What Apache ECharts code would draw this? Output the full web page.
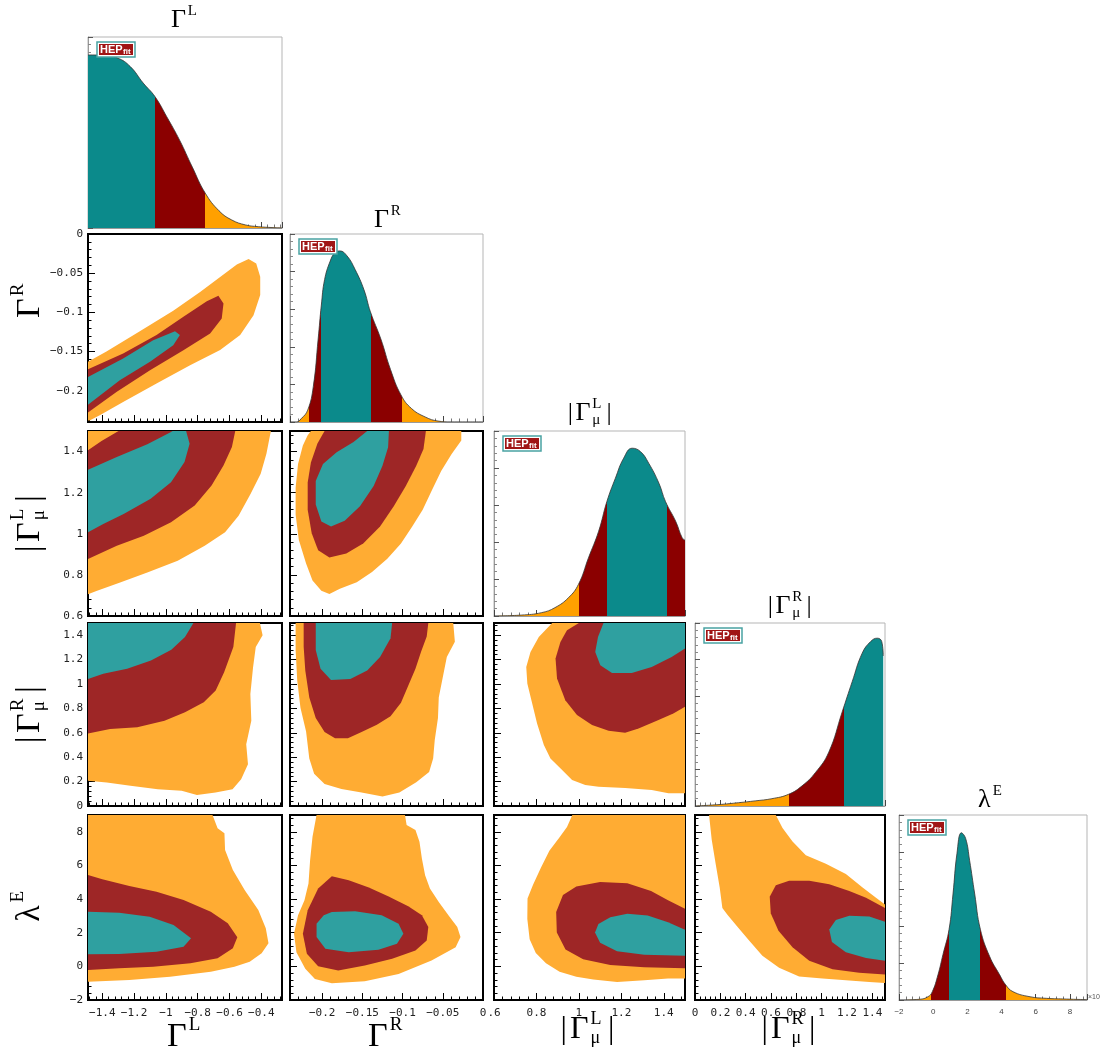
<!DOCTYPE html>
<html>
<head>
<meta charset="utf-8">
<script src="https://cdn.jsdelivr.net/npm/echarts@6/dist/echarts.min.js"></script>
<style>html,body{margin:0;padding:0;background:#fff}#main{width:1105px;height:1050px}</style>
</head>
<body>
<div id="main"></div>
<script>
// axis ranges of the five parameters
var rangeGL = [-1.49, -0.27];
var rangeGR = [-0.24, 0];
var rangeLmu = [0.6, 1.5];
var rangeRmu = [0, 1.5];
var rangeLam = [-2, 9];

// 1D marginal posteriors (x, density scaled to the box height)
var densGL = [[-1.49,0.906],[-1.40,0.905],[-1.304,0.89],[-1.224,0.845],[-1.143,0.759],[-1.069,0.688],[-0.995,0.583],[-0.914,0.46],[-0.834,0.319],[-0.753,0.183],[-0.666,0.09],[-0.586,0.042],[-0.499,0.016],[-0.419,0.007],[-0.326,0.002],[-0.27,0]];
var densGR = [[-0.24,0],[-0.232,0],[-0.226,0.018],[-0.218,0.063],[-0.211,0.189],[-0.205,0.441],[-0.201,0.622],[-0.197,0.757],[-0.19,0.856],[-0.184,0.901],[-0.178,0.91],[-0.169,0.883],[-0.159,0.811],[-0.148,0.703],[-0.14,0.586],[-0.127,0.441],[-0.115,0.279],[-0.102,0.144],[-0.089,0.072],[-0.072,0.027],[-0.056,0.005],[-0.039,0],[0,0]];
var densLmu = [[0.6,0],[0.729,0.005],[0.824,0.018],[0.887,0.045],[0.951,0.099],[0.998,0.171],[1.045,0.314],[1.093,0.458],[1.132,0.619],[1.172,0.745],[1.211,0.853],[1.251,0.907],[1.29,0.889],[1.329,0.826],[1.377,0.718],[1.408,0.619],[1.456,0.512],[1.487,0.422],[1.5,0.41]];
var densRmu = [[0,0],[0.106,0.004],[0.211,0.009],[0.343,0.018],[0.475,0.028],[0.607,0.04],[0.739,0.064],[0.845,0.11],[0.951,0.183],[1.056,0.294],[1.162,0.514],[1.241,0.679],[1.32,0.835],[1.387,0.899],[1.439,0.917],[1.474,0.899],[1.486,0.82]];
var densLam = [[-2,0],[-0.79,0.004],[-0.3,0.018],[-0.05,0.045],[0.28,0.136],[0.57,0.245],[0.93,0.382],[1.16,0.573],[1.39,0.791],[1.65,0.904],[1.9,0.873],[2.13,0.755],[2.43,0.573],[2.76,0.382],[3.3,0.236],[3.89,0.136],[4.24,0.082],[4.67,0.045],[5.64,0.018],[6.62,0.009],[7.79,0.005],[9,0.002]];

// credible-interval edges along x and the level of each zone between them
var edgesGL = [-1.069, -0.753];              var zonesGL = [68, 95, 99];
var edgesGR = [-0.216, -0.202, -0.139, -0.101]; var zonesGR = [99, 95, 68, 95, 99];
var edgesLmu = [1.001, 1.132, 1.416];         var zonesLmu = [99, 95, 68, 95];
var edgesRmu = [0.745, 1.175];                var zonesRmu = [99, 95, 68];
var edgesLam = [-0.11, 0.93, 2.76, 4.24];     var zonesLam = [99, 95, 68, 95, 99];

// 2D contours: 99.7%, 95%, 68% regions
var cRL99 = [[-1.49,-0.163],[-1.374,-0.150],[-1.164,-0.124],[-0.954,-0.098],[-0.785,-0.074],[-0.659,-0.055],[-0.554,-0.039],[-0.48,-0.032],[-0.432,-0.0375],[-0.407,-0.0546],[-0.407,-0.078],[-0.449,-0.1036],[-0.533,-0.129],[-0.659,-0.148],[-0.848,-0.1675],[-1.059,-0.191],[-1.269,-0.2144],[-1.416,-0.2315],[-1.48,-0.238],[-1.49,-0.238]];
var cRL95 = [[-1.49,-0.1727],[-1.269,-0.1526],[-1.059,-0.129],[-0.89,-0.1057],[-0.743,-0.0857],[-0.67,-0.0789],[-0.638,-0.0887],[-0.649,-0.1079],[-0.722,-0.127],[-0.89,-0.1484],[-1.1,-0.1739],[-1.311,-0.2016],[-1.49,-0.228]];
var cRL68 = [[-1.49,-0.1825],[-1.269,-0.159],[-1.08,-0.1356],[-0.943,-0.124],[-0.912,-0.129],[-0.954,-0.142],[-1.1,-0.163],[-1.29,-0.1867],[-1.49,-0.218]];

var cLmL99 = [[-1.49,1.5],[-0.34,1.5],[-0.368,1.389],[-0.404,1.292],[-0.468,1.194],[-0.543,1.088],[-0.628,1.007],[-0.756,0.942],[-0.926,0.869],[-1.117,0.812],[-1.288,0.763],[-1.437,0.722],[-1.49,0.706]];
var cLmL95 = [[-1.49,1.406],[-1.405,1.451],[-1.298,1.5],[-0.564,1.5],[-0.585,1.422],[-0.638,1.332],[-0.713,1.235],[-0.819,1.137],[-0.968,1.056],[-1.139,0.991],[-1.309,0.942],[-1.49,0.877]];
var cLmL68 = [[-1.49,1.311],[-1.309,1.373],[-1.117,1.435],[-0.968,1.495],[-0.958,1.5],[-0.873,1.5],[-0.851,1.438],[-0.883,1.349],[-0.968,1.251],[-1.096,1.17],[-1.266,1.096],[-1.394,1.048],[-1.49,1.007]];

var cRmL99 = [[-1.49,1.5],[-0.409,1.5],[-0.392,1.399],[-0.435,1.303],[-0.452,1.138],[-0.469,0.919],[-0.463,0.699],[-0.495,0.507],[-0.484,0.343],[-0.527,0.219],[-0.581,0.137],[-0.688,0.11],[-0.805,0.091],[-0.901,0.124],[-1.051,0.137],[-1.223,0.165],[-1.372,0.192],[-1.49,0.206]];
var cRmL95 = [[-1.49,1.5],[-0.559,1.5],[-0.576,1.303],[-0.634,1.097],[-0.687,0.946],[-0.762,0.85],[-0.88,0.768],[-1.009,0.699],[-1.18,0.645],[-1.351,0.631],[-1.49,0.595]];
var cRmL68 = [[-1.49,1.5],[-0.827,1.5],[-0.88,1.385],[-0.966,1.281],[-1.094,1.193],[-1.244,1.124],[-1.394,1.083],[-1.49,1.042]];

var cEL99 = [[-1.49,9],[-0.707,9],[-0.675,8.207],[-0.632,7.91],[-0.628,6.919],[-0.579,5.73],[-0.505,4.54],[-0.419,3.351],[-0.372,2.261],[-0.355,1.369],[-0.398,0.775],[-0.473,0.279],[-0.569,-0.018],[-0.718,-0.315],[-0.974,-0.613],[-1.23,-0.811],[-1.49,-0.91]];
var cEL95 = [[-1.49,5.432],[-1.4,5.175],[-1.23,4.778],[-1.059,4.441],[-0.889,3.946],[-0.718,3.252],[-0.611,2.559],[-0.551,1.726],[-0.579,1.072],[-0.675,0.478],[-0.846,0.18],[-1.08,-0.018],[-1.294,-0.117],[-1.49,-0.217]];
var cEL68 = [[-1.49,3.252],[-1.294,3.193],[-1.102,2.955],[-0.952,2.459],[-0.842,1.667],[-0.889,1.171],[-1.059,0.874],[-1.294,0.735],[-1.49,0.715]];

var cLmR99 = [[-0.214,1.5],[-0.027,1.5],[-0.027,1.454],[-0.039,1.388],[-0.052,1.306],[-0.064,1.208],[-0.075,1.117],[-0.088,1.035],[-0.102,0.953],[-0.119,0.879],[-0.138,0.814],[-0.157,0.764],[-0.178,0.732],[-0.191,0.707],[-0.201,0.723],[-0.212,0.773],[-0.22,0.855],[-0.229,0.97],[-0.233,1.093],[-0.233,1.224],[-0.23,1.339],[-0.224,1.429],[-0.218,1.479]];
var cLmR95 = [[-0.197,1.5],[-0.071,1.5],[-0.074,1.413],[-0.083,1.331],[-0.096,1.232],[-0.111,1.134],[-0.128,1.035],[-0.149,0.953],[-0.17,0.904],[-0.191,0.884],[-0.205,0.92],[-0.213,1.002],[-0.218,1.117],[-0.218,1.249],[-0.214,1.347],[-0.206,1.438],[-0.199,1.487]];
var cLmR68 = [[-0.144,1.5],[-0.117,1.5],[-0.118,1.421],[-0.125,1.331],[-0.136,1.232],[-0.153,1.134],[-0.172,1.063],[-0.189,1.035],[-0.201,1.06],[-0.208,1.142],[-0.208,1.257],[-0.199,1.339],[-0.182,1.397],[-0.161,1.446]];

var cRmR99 = [[-0.233,1.5],[-0.037,1.5],[-0.035,1.347],[-0.045,1.222],[-0.05,1.056],[-0.055,0.889],[-0.056,0.722],[-0.06,0.542],[-0.062,0.389],[-0.067,0.278],[-0.083,0.194],[-0.104,0.111],[-0.125,0.078],[-0.151,0.111],[-0.176,0.139],[-0.197,0.181],[-0.21,0.264],[-0.216,0.389],[-0.22,0.611],[-0.227,0.806],[-0.231,1.028],[-0.233,1.278]];
var cRmR95 = [[-0.223,1.5],[-0.068,1.5],[-0.07,1.389],[-0.077,1.264],[-0.084,1.125],[-0.093,0.986],[-0.102,0.847],[-0.115,0.736],[-0.132,0.667],[-0.151,0.606],[-0.168,0.556],[-0.184,0.556],[-0.197,0.606],[-0.208,0.722],[-0.216,0.889],[-0.221,1.111],[-0.223,1.306]];
var cRmR68 = [[-0.208,1.5],[-0.113,1.5],[-0.115,1.375],[-0.128,1.222],[-0.144,1.111],[-0.165,1.042],[-0.189,1.033],[-0.202,1.125],[-0.208,1.278]];

var cER99 = [[-0.207,9],[-0.097,9],[-0.095,8.403],[-0.084,8.105],[-0.079,7.409],[-0.076,6.414],[-0.072,5.42],[-0.066,4.624],[-0.055,3.829],[-0.043,3.033],[-0.032,2.337],[-0.028,1.74],[-0.034,1.143],[-0.064,0.348],[-0.105,-0.448],[-0.147,-0.885],[-0.188,-1.005],[-0.209,-0.746],[-0.221,-0.149],[-0.232,0.845],[-0.235,1.939],[-0.23,3.033],[-0.222,3.928],[-0.217,4.922],[-0.215,6.315],[-0.212,7.707]];
var cER95 = [[-0.188,5.36],[-0.167,5.122],[-0.142,4.684],[-0.118,4.166],[-0.093,3.57],[-0.076,3.033],[-0.068,2.337],[-0.07,1.542],[-0.084,0.945],[-0.113,0.448],[-0.147,0.05],[-0.18,-0.249],[-0.205,0.01],[-0.219,0.746],[-0.224,1.939],[-0.218,3.331],[-0.205,4.624]];
var cER68 = [[-0.188,3.231],[-0.159,3.271],[-0.126,3.033],[-0.105,2.536],[-0.099,1.939],[-0.107,1.342],[-0.13,0.984],[-0.167,0.845],[-0.196,1.044],[-0.207,1.74],[-0.207,2.536],[-0.198,3.033]];

var cRmLm99 = [[0.874,1.5],[1.5,1.5],[1.5,0.104],[1.422,0.104],[1.343,0.131],[1.218,0.147],[1.093,0.158],[1.03,0.172],[0.968,0.213],[0.921,0.295],[0.866,0.39],[0.835,0.499],[0.803,0.676],[0.78,0.84],[0.757,1.004],[0.752,1.14],[0.772,1.263],[0.811,1.385]];
var cRmLm95 = [[1.0,1.5],[1.5,1.5],[1.5,0.813],[1.445,0.758],[1.367,0.698],[1.281,0.636],[1.218,0.6],[1.14,0.616],[1.062,0.663],[0.991,0.745],[0.936,0.867],[0.897,1.045],[0.89,1.208],[0.913,1.345],[0.944,1.44]];
var cRmLm68 = [[1.116,1.5],[1.5,1.5],[1.5,1.29],[1.437,1.222],[1.343,1.14],[1.249,1.091],[1.156,1.091],[1.101,1.154],[1.077,1.263],[1.09,1.385]];

var cELm99 = [[0.969,9],[1.5,9],[1.5,-0.725],[1.42,-0.725],[1.308,-0.826],[1.18,-0.927],[1.068,-0.786],[0.988,-0.624],[0.909,-0.32],[0.845,0.187],[0.797,0.795],[0.768,1.605],[0.757,2.821],[0.758,4.036],[0.784,4.847],[0.821,5.86],[0.861,6.873],[0.909,7.683],[0.944,8.291]];
var cELm95 = [[1.5,3.428],[1.42,3.935],[1.34,4.482],[1.228,4.948],[1.1,5.009],[0.988,4.745],[0.925,4.239],[0.893,3.226],[0.896,2.01],[0.937,0.997],[1.02,0.43],[1.148,0.086],[1.308,-0.056],[1.5,-0.117]];
var cELm68 = [[1.5,2.172],[1.42,2.618],[1.324,3.023],[1.228,3.124],[1.148,2.922],[1.092,2.517],[1.076,2.01],[1.1,1.402],[1.18,0.896],[1.308,0.694],[1.5,0.633]];

var cERm99 = [[0.111,9],[0.638,9],[0.691,8.23],[0.77,7.42],[0.875,6.609],[1.033,6.103],[1.191,5.495],[1.323,4.685],[1.429,4.077],[1.5,3.672],[1.5,-0.988],[1.376,-0.927],[1.218,-0.846],[1.007,-0.725],[0.822,-0.603],[0.664,-0.076],[0.532,0.633],[0.427,1.544],[0.335,2.355],[0.256,3.064],[0.216,3.469],[0.195,4.685],[0.163,6.103],[0.132,7.521]];
var cERm95 = [[1.5,3.469],[1.35,4.077],[1.218,4.482],[1.06,4.887],[0.902,5.09],[0.743,5.09],[0.638,4.827],[0.59,4.138],[0.598,3.165],[0.659,2.112],[0.77,1.139],[0.902,0.329],[1.086,-0.177],[1.297,-0.38],[1.5,-0.481]];
var cERm68 = [[1.5,2.659],[1.376,2.963],[1.218,3.003],[1.112,2.76],[1.06,2.193],[1.081,1.443],[1.191,0.836],[1.35,0.491],[1.5,0.329]];

var ranges = [rangeGL, rangeGR, rangeLmu, rangeRmu, rangeLam];
var densities = [densGL, densGR, densLmu, densRmu, densLam];
var bandEdges = [edgesGL, edgesGR, edgesLmu, edgesRmu, edgesLam];
var bandZones = [zonesGL, zonesGR, zonesLmu, zonesRmu, zonesLam];
// contours keyed by "row,col"
var contours = {
    '1,0': [cRL99, cRL95, cRL68],
    '2,0': [cLmL99, cLmL95, cLmL68],
    '3,0': [cRmL99, cRmL95, cRmL68],
    '4,0': [cEL99, cEL95, cEL68],
    '2,1': [cLmR99, cLmR95, cLmR68],
    '3,1': [cRmR99, cRmR95, cRmR68],
    '4,1': [cER99, cER95, cER68],
    '3,2': [cRmLm99, cRmLm95, cRmLm68],
    '4,2': [cELm99, cELm95, cELm68],
    '4,3': [cERm99, cERm95, cERm68]
};
var contourLevels = [99, 95, 68];

// styles / layout
var diagColor = {68: '#0b8a8b', 95: '#8b0000', 99: '#ffa000'};
var fillColor = {68: '#2fa0a0', 95: '#9e2626', 99: '#ffac33'};
var tickInterval = [null, null, 0.2, 0.2, 2];
var tickSplit = [5, 5, 5, 7, 6];
var colX = [88, 290, 494, 695, 899];
var colW = [194, 193, 191, 190, 188];
var rowY = [37, 234, 431, 623, 815];
var rowH = [191, 188, 185, 183, 185];

function fmtTick(v) {
    return String(+(+v).toFixed(3)).replace('-', '\u2212');
}

function makeAxis(gi, v, diag, showLabels, isX) {
    var ax = {
        type: 'value',
        gridIndex: gi,
        min: ranges[v][0],
        max: ranges[v][1],
        splitNumber: tickSplit[v],
        axisLine: {show: true, onZero: false, lineStyle: {color: diag ? '#9a9a9a' : '#000', width: diag ? 1 : 1.5}},
        axisTick: {show: true, inside: true, length: diag ? 6 : 7, lineStyle: {color: diag ? '#444' : '#000', width: 1}},
        minorTick: {show: true, splitNumber: 5, length: 3.5, lineStyle: {color: diag ? '#777' : '#000', width: 1}},
        splitLine: {show: false},
        axisLabel: {
            show: showLabels,
            margin: isX ? 8 : 5,
            fontSize: 11,
            fontFamily: 'DejaVu Sans Mono',
            color: '#222',
            showMinLabel: (v === 2 || v === 3 || v === 4),
            showMaxLabel: v === 1,
            formatter: function (val) {
                if (isX && v === 2 && Math.abs(val - 0.6) < 1e-6) return '.6';
                return fmtTick(val);
            }
        }
    };
    if (tickInterval[v]) ax.interval = tickInterval[v];
    return ax;
}

function polySeries(gi, pts, color) {
    return {
        type: 'custom',
        xAxisIndex: gi,
        yAxisIndex: gi,
        data: pts,
        encode: {x: 0, y: 1},
        silent: true,
        clip: true,
        z: 2,
        renderItem: function (params, api) {
            if (params.dataIndex !== 0) return null;
            return {
                type: 'polygon',
                shape: {points: pts.map(function (p) { return api.coord(p); })},
                style: {fill: color}
            };
        }
    };
}

function piecesFor(edges, zones) {
    var out = [];
    for (var k = 0; k < zones.length; k++) {
        var p = {color: diagColor[zones[k]]};
        if (k > 0) p.gte = edges[k - 1];
        if (k < edges.length) p.lt = edges[k];
        out.push(p);
    }
    return out;
}

var textZ = 100;
function mathLabel(cx, cy, size, base, sup, sub, bars, rot) {
    var small = Math.round(size * 0.56);
    var kids = [], x = 0;
    function put(t, dx, dy, fs) {
        kids.push({type: 'text', x: dx, y: dy, z: textZ,
            style: {text: t, fontSize: fs, fontFamily: 'Liberation Serif', fill: '#000', align: 'left', verticalAlign: 'middle'}});
    }
    if (bars) { put('|', x, 0, size); x += size * 0.3; }
    put(base, x, 0, size);
    x += size * (base === '\u03bb' ? 0.56 : 0.64);
    put(sup, x, -size * 0.34, small);
    if (sub) put(sub, x, size * 0.26, small);
    x += small * 0.75;
    if (bars) { x += size * 0.12; put('|', x, 0, size); x += size * 0.3; }
    kids.forEach(function (k) { k.x -= x / 2; });
    return {type: 'group', x: cx, y: cy, rotation: rot || 0, z: textZ, children: kids};
}

function logo(x, y) {
    return {type: 'group', x: x, y: y, z: textZ, children: [
        {type: 'rect', z: textZ, shape: {x: 0, y: 0, width: 38, height: 15}, style: {fill: '#fff', stroke: '#4aa3a3', lineWidth: 1.5}},
        {type: 'rect', z: textZ, shape: {x: 2, y: 2, width: 34, height: 11}, style: {fill: '#a01515'}},
        {type: 'text', z: textZ, x: 3, y: 8, style: {text: 'HEP', fontSize: 11, fontWeight: 'bold', fontFamily: 'Liberation Sans', fill: '#fff', verticalAlign: 'middle'}},
        {type: 'text', z: textZ, x: 26, y: 10, style: {text: 'fit', fontSize: 8, fontWeight: 'bold', fontFamily: 'Liberation Sans', fill: '#fff', verticalAlign: 'middle'}}
    ]};
}

var grids = [], xAxes = [], yAxes = [], series = [], visualMaps = [], graphics = [];
var gi = 0;
for (var i = 0; i < 5; i++) {
    for (var j = 0; j <= i; j++) {
        var diag = i === j;
        grids.push({
            left: colX[j], top: rowY[i], width: colW[j], height: rowH[i],
            show: true, borderColor: diag ? '#b5b5b5' : '#000', borderWidth: diag ? 1 : 2,
            containLabel: false, outerBoundsMode: 'none'
        });
        if (diag) {
            var xa = makeAxis(gi, i, true, i === 4, true);
            if (i === 4) {
                xa.axisLabel.fontSize = 8;
                xa.axisLabel.fontFamily = 'Liberation Sans';
                xa.axisLabel.color = '#444';
                xa.axisLabel.showMinLabel = true;
            }
            xAxes.push(xa);
            yAxes.push({
                type: 'value', gridIndex: gi, min: 0, max: 1, splitNumber: 5,
                axisLine: {show: true, onZero: false, lineStyle: {color: '#9a9a9a'}},
                axisTick: {show: true, inside: true, length: 5, lineStyle: {color: '#555'}},
                minorTick: {show: true, splitNumber: 5, length: 3, lineStyle: {color: '#888'}},
                splitLine: {show: false},
                axisLabel: {show: false}
            });
            series.push({
                type: 'line', xAxisIndex: gi, yAxisIndex: gi,
                data: densities[i], showSymbol: false, smooth: 0.45,
                lineStyle: {color: '#333', width: 0.8},
                areaStyle: {opacity: 1},
                silent: true, z: 2
            });
            visualMaps.push({
                type: 'piecewise', show: false, seriesIndex: series.length - 1, dimension: 0,
                pieces: piecesFor(bandEdges[i], bandZones[i])
            });
            graphics.push(logo(colX[j] + 9, rowY[i] + 5));
        } else {
            xAxes.push(makeAxis(gi, j, false, i === 4, true));
            yAxes.push(makeAxis(gi, i, false, j === 0, false));
            var polys = contours[i + ',' + j];
            for (var k = 0; k < polys.length; k++) {
                series.push(polySeries(gi, polys[k], fillColor[contourLevels[k]]));
            }
        }
        gi++;
    }
}

// diagonal titles
graphics.push(mathLabel(185, 20, 26, '\u0393', 'L', null, false));
graphics.push(mathLabel(388, 220, 26, '\u0393', 'R', null, false));
graphics.push(mathLabel(591, 413, 26, '\u0393', 'L', '\u03bc', true));
graphics.push(mathLabel(791, 606, 26, '\u0393', 'R', '\u03bc', true));
graphics.push(mathLabel(991, 800, 26, '\u03bb', 'E', null, false));
// bottom axis titles
graphics.push(mathLabel(185, 1037, 34, '\u0393', 'L', null, false));
graphics.push(mathLabel(386, 1037, 34, '\u0393', 'R', null, false));
graphics.push(mathLabel(589, 1030, 32, '\u0393', 'L', '\u03bc', true));
graphics.push(mathLabel(790, 1030, 32, '\u0393', 'R', '\u03bc', true));
// left axis titles
graphics.push(mathLabel(30, 300, 34, '\u0393', 'R', null, false, Math.PI / 2));
graphics.push(mathLabel(30, 522, 34, '\u0393', 'L', '\u03bc', true, Math.PI / 2));
graphics.push(mathLabel(30, 713, 34, '\u0393', 'R', '\u03bc', true, Math.PI / 2));
graphics.push(mathLabel(30, 905, 34, '\u03bb', 'E', null, false, Math.PI / 2));
graphics.push({type: 'text', x: 1088, y: 997, z: textZ,
    style: {text: '\u00d710', fontSize: 7, fontFamily: 'Liberation Sans', fill: '#555', verticalAlign: 'middle'}});

var myChart = echarts.init(document.getElementById('main'));
var option = {
    backgroundColor: '#fff',
    animation: false,
    grid: grids,
    xAxis: xAxes,
    yAxis: yAxes,
    visualMap: visualMaps,
    series: series,
    graphic: {elements: graphics}
};
myChart.setOption(option);
window.addEventListener('resize', function () {
    myChart.resize();
});
</script>
</body>
</html>
